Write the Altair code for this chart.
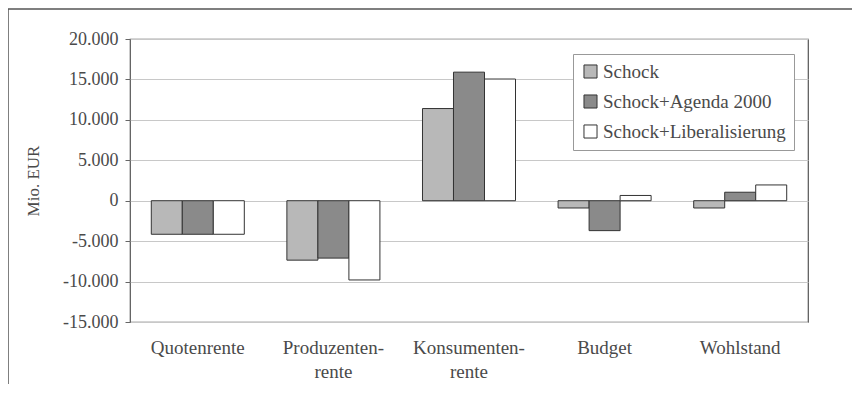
import altair as alt
import pandas as pd

categories = ["Quotenrente", "Produzenten-|rente", "Konsumenten-|rente", "Budget", "Wohlstand"]
series = ["Schock", "Schock+Agenda 2000", "Schock+Liberalisierung"]
schock = [-4150, -7350, 11400, -900, -900]
agenda = [-4150, -7100, 15900, -3700, 1050]
liberal = [-4150, -9800, 15050, 650, 1950]
colors = ["#b8b8b8", "#8a8a8a", "#ffffff"]
y_ticks = [-15000, -10000, -5000, 0, 5000, 10000, 15000, 20000]

rows = []
for s, vals in zip(series, [schock, agenda, liberal]):
    for c, v in zip(categories, vals):
        rows.append({"cat": c, "series": s, "value": v})
df = pd.DataFrame(rows)

FONT = "'Liberation Serif', 'Times New Roman', 'DejaVu Serif', serif"
TXT = "#4a4a4a"

bars = alt.Chart(df).mark_bar(stroke="#333333", strokeWidth=1).encode(
    x=alt.X("cat:N", sort=categories,
            scale=alt.Scale(paddingInner=0.314, paddingOuter=0.157),
            axis=alt.Axis(title=None, labelAngle=0, domain=False, ticks=False,
                          labelPadding=16, labelFont=FONT, labelFontSize=19,
                          labelColor=TXT, labelLineHeight=24,
                          labelExpr="split(datum.label, '|')")),
    xOffset=alt.XOffset("series:N", sort=series,
                        scale=alt.Scale(paddingInner=0, paddingOuter=0)),
    y=alt.Y("value:Q", scale=alt.Scale(domain=[-15000, 20000], nice=False),
            axis=alt.Axis(title="Mio. EUR", values=y_ticks, domain=False,
                          tickSize=5, tickColor="#666666", labelPadding=7,
                          labelFont=FONT, labelFontSize=18, labelColor=TXT,
                          titleFont=FONT, titleFontSize=17, titleFontWeight="normal",
                          titleColor=TXT, titlePadding=20,
                          gridColor="#c8c8c8", grid=True,
                          labelExpr="replace(replace(format(datum.value, ','), ',', '.'), '\u2212', '-')")),
    color=alt.Color("series:N", sort=series,
                    scale=alt.Scale(domain=series, range=colors),
                    legend=alt.Legend(title=None, orient="none", legendX=443, legendY=15,
                                      direction="vertical", symbolType="square",
                                      symbolSize=170, symbolStrokeColor="#333333",
                                      symbolStrokeWidth=1, symbolOpacity=1,
                                      labelFont=FONT, labelFontSize=19, labelColor=TXT,
                                      labelLimit=300,
                                      labelOffset=3, rowPadding=10, padding=8,
                                      fillColor="#ffffff", strokeColor="#999999")),
)

one = alt.Data(values=[{"k": 1}])
left_frame = alt.Chart(one).mark_rule(color="#555555", strokeWidth=1.5).encode(
    x=alt.value(-122), y=alt.value(-30), y2=alt.value(361))
top_frame = alt.Chart(one).mark_rule(color="#555555", strokeWidth=1.5).encode(
    x=alt.value(-122), x2=alt.value(722), y=alt.value(-30))

chart = alt.layer(bars, left_frame, top_frame).properties(
    width=678, height=283,
    autosize=alt.AutoSizeParams(type="none"),
    padding={"left": 122, "top": 31, "right": 44, "bottom": 62},
    background="#ffffff",
).configure_view(stroke="#555555", strokeWidth=1.2)

chart.save("out.html", embed_options={"renderer": "svg", "actions": False})
